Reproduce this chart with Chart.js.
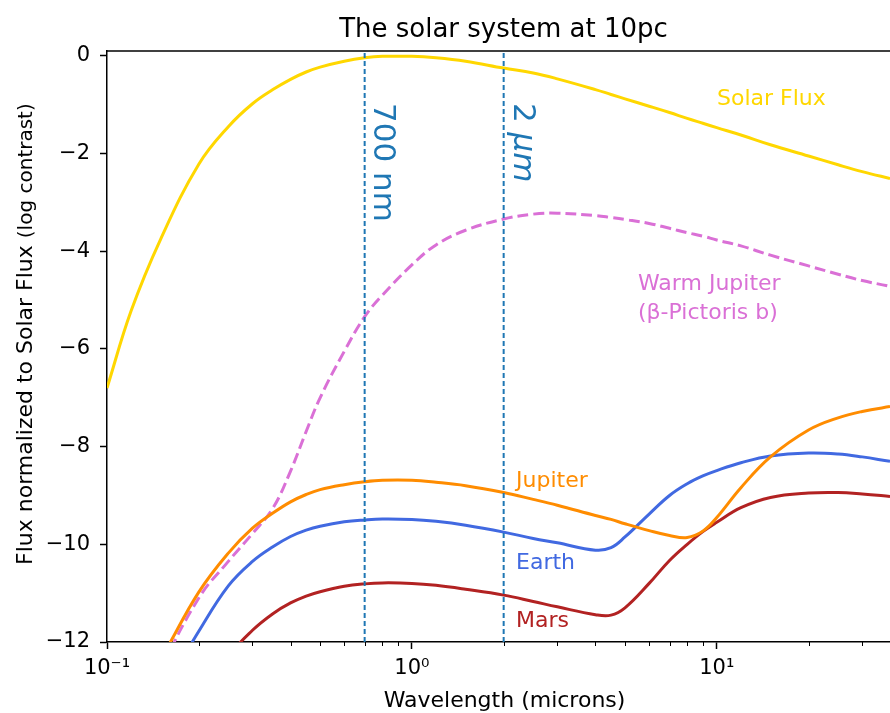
<!DOCTYPE html>
<html>
<head>
<meta charset="utf-8">
<script src="https://cdn.jsdelivr.net/npm/chart.js@4.4.0/dist/chart.umd.min.js"></script>
<style>
  html, body { margin: 0; padding: 0; background: #fff; }
  #wrap { width: 890px; height: 713px; position: relative; }
</style>
</head>
<body>
<div id="wrap"><canvas id="sedChart"></canvas></div>
<script>
// wavelength grid (microns) and log contrast values
const wavelengths = [0.1, 0.12, 0.15, 0.2, 0.25, 0.3, 0.35, 0.4, 0.45, 0.5, 0.6, 0.7, 0.8, 1.0, 1.2, 1.5, 2, 2.5, 3, 4, 4.5, 5, 6, 7, 8, 9, 10, 12, 15, 20, 25, 30, 37, 40]
const solarFlux = [-6.8, -5.22, -3.75, -2.22, -1.45, -0.98, -0.69, -0.48, -0.33, -0.23, -0.11, -0.04, -0.01, -0.01, -0.04, -0.11, -0.25, -0.35, -0.47, -0.69, -0.79, -0.88, -1.03, -1.16, -1.28, -1.38, -1.47, -1.62, -1.82, -2.05, -2.23, -2.37, -2.51, -2.56]
const warmJupiter = [-15.5, -14.2, -12.6, -11.1, -10.35, -9.78, -9.26, -8.5, -7.69, -7.0, -6.05, -5.34, -4.9, -4.28, -3.87, -3.57, -3.34, -3.24, -3.22, -3.27, -3.31, -3.35, -3.43, -3.53, -3.62, -3.69, -3.77, -3.89, -4.08, -4.3, -4.47, -4.6, -4.72, -4.78]
const jupiter = [-14.2, -13.3, -12.35, -10.98, -10.18, -9.67, -9.36, -9.13, -8.98, -8.88, -8.78, -8.72, -8.69, -8.69, -8.73, -8.8, -8.94, -9.08, -9.2, -9.41, -9.49, -9.58, -9.72, -9.82, -9.86, -9.73, -9.45, -8.84, -8.21, -7.66, -7.41, -7.28, -7.18, -7.15]
const earth = [-15, -14, -13.1, -11.78, -10.85, -10.35, -10.05, -9.84, -9.71, -9.63, -9.54, -9.5, -9.48, -9.49, -9.53, -9.61, -9.75, -9.88, -9.97, -10.12, -10.07, -9.85, -9.38, -9.0, -8.76, -8.6, -8.49, -8.33, -8.19, -8.13, -8.15, -8.21, -8.3, -8.33]
const mars = [-16.3, -15.5, -14.6, -13.3, -12.3, -11.76, -11.42, -11.2, -11.06, -10.97, -10.86, -10.81, -10.79, -10.8, -10.84, -10.92, -11.04, -11.17, -11.28, -11.44, -11.45, -11.3, -10.8, -10.33, -10.0, -9.74, -9.55, -9.25, -9.04, -8.95, -8.94, -8.97, -9.02, -9.04]

const markerLines = [0.7, 2]
const yTicks = [-12, -10, -8, -6, -4, -2, 0]
const xMajorTicks = [0.1, 1, 10]
const xTickLabels = ['10\u207B\u00B9', '10\u2070', '10\u00B9']
const xMinorTicks = [0.2, 0.3, 0.4, 0.5, 0.6, 0.7, 0.8, 0.9, 2, 3, 4, 5, 6, 7, 8, 9, 20, 30]

const FONT = '"DejaVu Sans", sans-serif'
const TAB_BLUE = '#1f77b4'

const pts = (vals) => wavelengths.map((w, i) => ({ x: w, y: vals[i] }))

const series = (label, vals, color, dash) => ({
  label,
  data: pts(vals),
  borderColor: color,
  borderWidth: 3,
  borderDash: dash || [],
  pointRadius: 0,
  tension: 0.4,
  clip: 0,
  fill: false,
})

const markers = markerLines.map((w) => ({
  label: w + ' um',
  data: [{ x: w, y: -12 }, { x: w, y: 0.1 }],
  borderColor: TAB_BLUE,
  borderWidth: 2,
  borderDash: [5, 3],
  pointRadius: 0,
  tension: 0,
  clip: 0,
}))

const annotate = {
  id: 'annotate',
  afterDraw(chart) {
    const { ctx, chartArea: a, scales } = chart
    const x = scales.x
    ctx.save()

    // top spine
    ctx.strokeStyle = '#000'
    ctx.lineWidth = 1.5
    ctx.beginPath()
    ctx.moveTo(a.left - 0.75, a.top)
    ctx.lineTo(a.right, a.top)
    ctx.stroke()

    // minor ticks on the log axis
    ctx.lineWidth = 1
    xMinorTicks.forEach((v) => {
      const px = Math.round(x.getPixelForValue(v)) + 0.5
      ctx.beginPath()
      ctx.moveTo(px, a.bottom)
      ctx.lineTo(px, a.bottom + 4)
      ctx.stroke()
    })

    ctx.fillStyle = '#000'
    ctx.textBaseline = 'alphabetic'
    ctx.textAlign = 'center'
    ctx.font = '26px ' + FONT
    ctx.fillText('The solar system at 10pc', 503.5, 37)
    ctx.font = '22px ' + FONT
    ctx.fillText('Wavelength (microns)', 504.5, 707)

    // y label, two sizes
    ctx.save()
    ctx.translate(31.5, 565)
    ctx.rotate(-Math.PI / 2)
    ctx.textAlign = 'left'
    ctx.font = '22px ' + FONT
    const main = 'Flux normalized to Solar Flux '
    ctx.fillText(main, 0, 0)
    const w0 = ctx.measureText(main).width
    ctx.font = '20px ' + FONT
    ctx.fillText('(log contrast)', w0, 0)
    ctx.restore()

    // rotated marker labels
    ctx.fillStyle = TAB_BLUE
    ctx.font = '31px ' + FONT
    ctx.save()
    ctx.translate(x.getPixelForValue(markerLines[0]) + 9, 103)
    ctx.rotate(Math.PI / 2)
    ctx.textAlign = 'left'
    ctx.fillText('700 nm', 0, 0)
    ctx.restore()

    ctx.save()
    ctx.translate(x.getPixelForValue(markerLines[1]) + 10, 103)
    ctx.rotate(Math.PI / 2)
    ctx.textAlign = 'left'
    ctx.fillText('2 ', 0, 0)
    const w2 = ctx.measureText('2 ').width
    ctx.font = 'italic 31px ' + FONT
    ctx.fillText('\u03BCm', w2, 0)
    ctx.restore()

    // series labels
    ctx.textAlign = 'left'
    ctx.font = '22px ' + FONT
    ctx.fillStyle = '#FFD700'
    ctx.fillText('Solar Flux', 717, 105)
    ctx.fillStyle = '#DA70D6'
    ctx.fillText('Warm Jupiter', 638, 290)
    ctx.fillText('(\u03B2-Pictoris b)', 638, 319)
    ctx.fillStyle = '#FF8C00'
    ctx.fillText('Jupiter', 516, 487)
    ctx.fillStyle = '#4169E1'
    ctx.fillText('Earth', 516, 569)
    ctx.fillStyle = '#B22222'
    ctx.fillText('Mars', 516, 627)

    ctx.restore()
  },
}

Chart.defaults.font.family = FONT
Chart.defaults.color = '#000'

new Chart(document.getElementById('sedChart'), {
  type: 'line',
  data: {
    datasets: [
      ...markers,
      series('Jupiter', jupiter, '#FF8C00'),
      series('Mars', mars, '#B22222'),
      series('Earth', earth, '#4169E1'),
      series('Warm Jupiter', warmJupiter, '#DA70D6', [11, 5]),
      series('Solar Flux', solarFlux, '#FFD700'),
    ],
  },
  options: {
    responsive: true,
    maintainAspectRatio: false,
    animation: false,
    elements: { line: { capBezierPoints: false } },
    layout: { padding: { top: 51, right: 0, left: 0, bottom: 0 } },
    plugins: {
      legend: { display: false },
      title: { display: false },
      tooltip: { enabled: false },
    },
    scales: {
      x: {
        type: 'logarithmic',
        min: 0.1,
        max: 37,
        afterFit: (s) => { s.height = 71 },
        afterBuildTicks: (s) => { s.ticks = xMajorTicks.map((v) => ({ value: v })) },
        grid: { drawOnChartArea: false, tickLength: 7, tickColor: '#000', tickWidth: 1.5 },
        border: { color: '#000', width: 1.5 },
        ticks: {
          font: { size: 21 },
          padding: 7,
          maxRotation: 0,
          autoSkip: false,
          callback: (v) => xTickLabels[xMajorTicks.indexOf(v)] ?? '',
        },
      },
      y: {
        min: -12,
        max: 0.1,
        afterFit: (s) => { s.width = 107 },
        afterBuildTicks: (s) => { s.ticks = yTicks.map((v) => ({ value: v })) },
        grid: { drawOnChartArea: false, tickLength: 7, tickColor: '#000', tickWidth: 1.5 },
        border: { color: '#000', width: 1.5 },
        ticks: {
          font: { size: 21 },
          padding: 10,
          callback: (v) => String(v).replace('-', '\u2212'),
        },
      },
    },
  },
  plugins: [annotate],
})
</script>
</body>
</html>
